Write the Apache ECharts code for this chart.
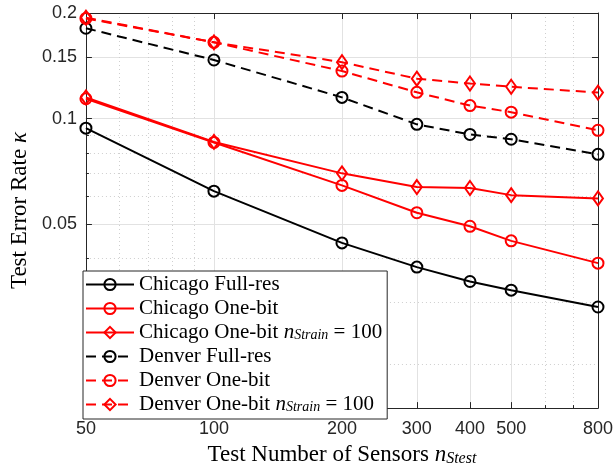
<!DOCTYPE html>
<html>
<head>
<meta charset="utf-8">
<script src="https://cdn.jsdelivr.net/npm/echarts@6/dist/echarts.min.js"></script>
<style>
  html, body { margin: 0; padding: 0; background: #ffffff; }
  #chart { width: 616px; height: 472px; }
</style>
</head>
<body>
<div id="chart"></div>
<script>
// Number of test sensors (x) and test error rate kappa (y) for each configuration
const sensors = [50, 100, 200, 300, 400, 500, 800];

const chicagoFullRes    = [0.094, 0.0622, 0.0443, 0.0378, 0.0344, 0.0325, 0.0291];
const chicagoOneBit     = [0.114, 0.0856, 0.0646, 0.0540, 0.0494, 0.0449, 0.0388];
const chicagoOneBit100  = [0.115, 0.0859, 0.0699, 0.0639, 0.0635, 0.0606, 0.0593];
const denverFullRes     = [0.181, 0.147, 0.115, 0.0964, 0.0902, 0.0874, 0.0792];
const denverOneBit      = [0.193, 0.165, 0.1367, 0.1189, 0.109, 0.1044, 0.0927];
const denverOneBit100   = [0.194, 0.165, 0.1449, 0.130, 0.126, 0.1233, 0.1187];

// Tick positions on the logarithmic axes
const xMajorTicks = [50, 100, 200, 300, 400, 500, 800];
const xMinorTicks = [60, 70, 80, 90, 600, 700];
const yMajorTicks = [0.05, 0.1, 0.15, 0.2];
const yMinorTicks = [0.02, 0.03, 0.04, 0.06, 0.07, 0.08, 0.09];

const X_MIN = 50, X_MAX = 800;
const Y_MIN = 0.015, Y_MAX = 0.2;

const AXIS_COLOR = '#262626';
const SANS = '"Liberation Sans", Arial, Helvetica, sans-serif';
const SERIF = '"Liberation Serif", "Times New Roman", serif';

const tickFmt = v => String(parseFloat(Number(v).toPrecision(6)));

const majorGrid = { show: true, lineStyle: { color: '#e2e2e2', width: 1 } };
const minorGrid = { show: true, lineStyle: { color: '#cfcfcf', width: 1, type: [1, 3] } };

function frameAxis(position, min, max, ticks) {
  return {
    type: 'log', logBase: 10, min, max, position,
    axisLine: { show: true, onZero: false, lineStyle: { color: AXIS_COLOR, width: 1 } },
    axisTick: { show: true, inside: true, length: 6, customValues: ticks, lineStyle: { color: AXIS_COLOR } },
    axisLabel: { show: false },
    splitLine: { show: false }
  };
}

function minorAxis(position, min, max, ticks) {
  return {
    type: 'log', logBase: 10, min, max, position,
    axisLine: { show: false, onZero: false },
    axisTick: { show: true, inside: true, length: 3, customValues: ticks, lineStyle: { color: AXIS_COLOR } },
    axisLabel: { show: false },
    splitLine: minorGrid
  };
}

const subRich = {
  it:  { fontFamily: SERIF, fontStyle: 'italic', color: '#000' },
  sub: { fontFamily: SERIF, fontStyle: 'italic', color: '#000' }
};

function makeSeries(name, values, color, dashed, marker) {
  const isDiamond = marker === 'diamond';
  return {
    name,
    type: 'line',
    xAxisIndex: 0,
    yAxisIndex: 0,
    data: sensors.map((s, i) => [s, values[i]]),
    symbol: marker,
    symbolSize: isDiamond ? [10, 14] : 11,
    showAllSymbol: true,
    lineStyle: { color, width: 2, type: dashed ? [10, 6] : 'solid' },
    itemStyle: { color: 'rgba(255,255,255,0)', borderColor: color, borderWidth: 2 },
    emphasis: { disabled: true },
    animation: false,
    z: 3
  };
}

const seriesList = [
  makeSeries('Chicago Full-res', chicagoFullRes, '#000000', false, 'circle'),
  makeSeries('Chicago One-bit', chicagoOneBit, '#ff0000', false, 'circle'),
  makeSeries('Chicago One-bit n_{Strain} = 100', chicagoOneBit100, '#ff0000', false, 'diamond'),
  makeSeries('Denver Full-res', denverFullRes, '#000000', true, 'circle'),
  makeSeries('Denver One-bit', denverOneBit, '#ff0000', true, 'circle'),
  makeSeries('Denver One-bit n_{Strain} = 100', denverOneBit100, '#ff0000', true, 'diamond')
];

const chart = echarts.init(document.getElementById('chart'), null, { renderer: 'canvas' });

chart.setOption({
  animation: false,
  backgroundColor: '#ffffff',
  grid: { left: 83, right: 17, top: 13, bottom: 56, containLabel: false },
  xAxis: [
    {
      type: 'log', logBase: 10, min: X_MIN, max: X_MAX, position: 'bottom',
      axisLine: { show: true, onZero: false, lineStyle: { color: AXIS_COLOR, width: 1 } },
      axisTick: { show: true, inside: true, length: 6, customValues: xMajorTicks, lineStyle: { color: AXIS_COLOR } },
      axisLabel: {
        customValues: xMajorTicks, formatter: tickFmt,
        fontFamily: SANS, fontSize: 18, color: AXIS_COLOR, margin: 12
      },
      splitLine: majorGrid,
      name: 'Test Number of Sensors {it|n}{sub|Stest}',
      nameLocation: 'middle',
      nameGap: 18,
      nameTextStyle: {
        fontFamily: SERIF, fontSize: 23, color: '#000', lineHeight: 24, verticalAlign: 'top',
        rich: {
          it:  Object.assign({}, subRich.it, { fontSize: 23, lineHeight: 24 }),
          sub: Object.assign({}, subRich.sub, { fontSize: 16, lineHeight: 15, verticalAlign: 'bottom' })
        }
      }
    },
    frameAxis('top', X_MIN, X_MAX, xMajorTicks),
    minorAxis('bottom', X_MIN, X_MAX, xMinorTicks)
  ],
  yAxis: [
    {
      type: 'log', logBase: 10, min: Y_MIN, max: Y_MAX, position: 'left',
      axisLine: { show: true, onZero: false, lineStyle: { color: AXIS_COLOR, width: 1 } },
      axisTick: { show: true, inside: true, length: 6, customValues: yMajorTicks, lineStyle: { color: AXIS_COLOR } },
      axisLabel: {
        customValues: yMajorTicks, formatter: tickFmt,
        fontFamily: SANS, fontSize: 18, color: AXIS_COLOR, margin: 9
      },
      splitLine: majorGrid,
      name: 'Test Error Rate {it|κ}',
      nameLocation: 'middle',
      nameGap: 52,
      nameTextStyle: {
        fontFamily: SERIF, fontSize: 23, color: '#000',
        rich: { it: Object.assign({}, subRich.it, { fontSize: 23 }) }
      }
    },
    frameAxis('right', Y_MIN, Y_MAX, yMajorTicks),
    minorAxis('left', Y_MIN, Y_MAX, yMinorTicks)
  ],
  legend: {
    orient: 'vertical',
    left: 83,
    top: 271,
    padding: [3, 5, 4, 2],
    itemWidth: 48,
    itemHeight: 14,
    itemGap: 3,
    backgroundColor: '#ffffff',
    borderColor: AXIS_COLOR,
    borderWidth: 1,
    borderRadius: 0,
    selectedMode: false,
    formatter: name => name.replace(/n_\{(\w+)\}/, '{it|n}{sub|$1}'),
    textStyle: {
      fontFamily: SERIF, fontSize: 21, color: '#000', lineHeight: 20,
      rich: {
        it:  Object.assign({}, subRich.it, { fontSize: 21, lineHeight: 20 }),
        sub: Object.assign({}, subRich.sub, { fontSize: 14, lineHeight: 13, verticalAlign: 'bottom' })
      }
    },
    z: 10
  },
  series: seriesList
});
</script>
</body>
</html>
